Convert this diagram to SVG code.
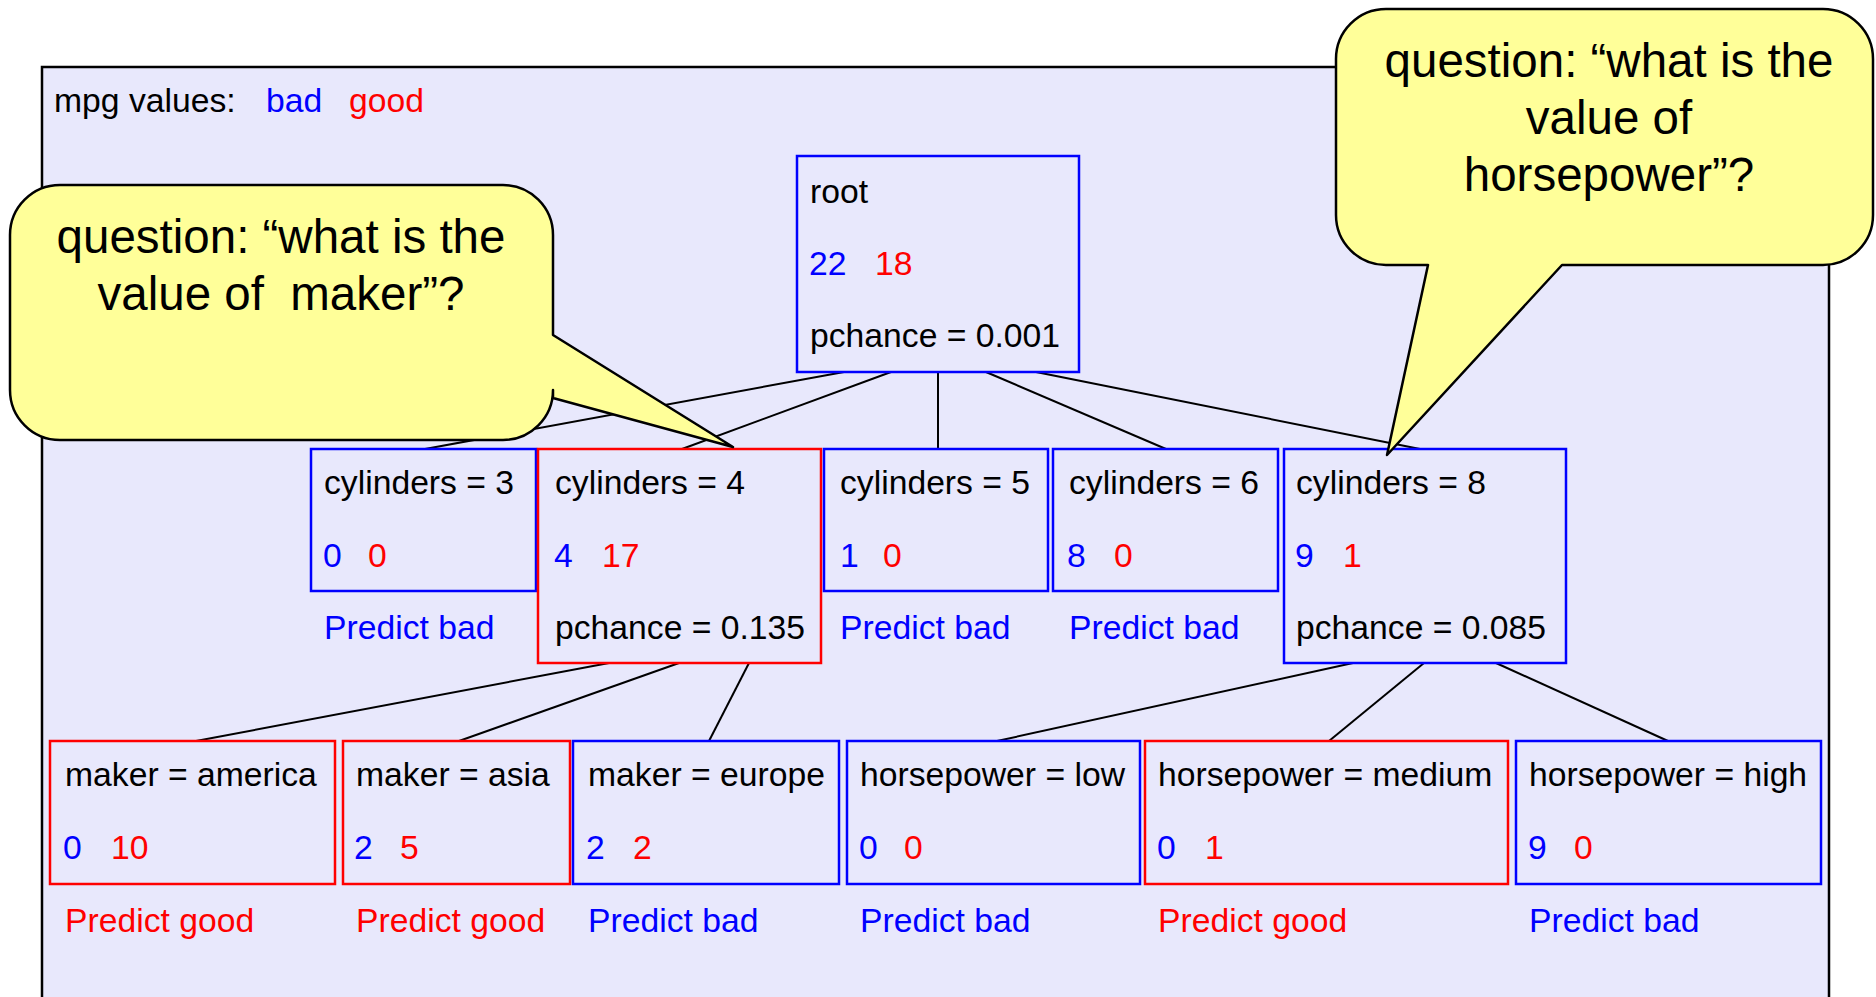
<svg xmlns="http://www.w3.org/2000/svg" width="1876" height="997" viewBox="0 0 1876 997">
<style>
.t{font-family:"Liberation Sans",Arial,sans-serif;font-size:33.7px;fill:#000}
.b{fill:#0000FF}
.r{fill:#FF0000}
.nb{fill:none;stroke:#0000FF;stroke-width:2.5}
.nr{fill:none;stroke:#FF0000;stroke-width:2.5}
.c{stroke:#000;stroke-width:2;fill:none}
.call{fill:#FFFF99;stroke:#000;stroke-width:2.5;stroke-linejoin:round}
.ct{font-family:"Liberation Sans",Arial,sans-serif;font-size:47.5px;fill:#000;text-anchor:middle}
</style>
<rect x="0" y="0" width="1876" height="997" fill="#FFFFFF"/>
<rect id="frame" x="42" y="67" width="1787" height="940" fill="#E8E8FC" stroke="#000" stroke-width="2.5"/>
<g id="legend">
<text class="t" x="54" y="112">mpg values:</text>
<text class="t b" x="266" y="112">bad</text>
<text class="t r" x="349" y="112">good</text>
</g>
<g id="connectors">
<line class="c" x1="844" y1="372" x2="425" y2="449"/>
<line class="c" x1="891" y1="372" x2="682" y2="449"/>
<line class="c" x1="938" y1="372" x2="938" y2="449"/>
<line class="c" x1="986" y1="372" x2="1166" y2="449"/>
<line class="c" x1="1036" y1="372" x2="1420" y2="449"/>
<line class="c" x1="609" y1="663" x2="196" y2="741"/>
<line class="c" x1="679" y1="663" x2="459" y2="741"/>
<line class="c" x1="749" y1="663" x2="709" y2="741"/>
<line class="c" x1="1353" y1="663" x2="997" y2="741"/>
<line class="c" x1="1424" y1="663" x2="1329" y2="741"/>
<line class="c" x1="1496" y1="663" x2="1668" y2="741"/>
</g>
<g id="root">
<rect class="nb" x="797" y="156" width="282" height="216"/>
<text class="t" x="810" y="203">root</text>
<text class="t" y="275"><tspan class="b" x="809">22</tspan><tspan class="r" x="875">18</tspan></text>
<text class="t" x="810" y="347">pchance = 0.001</text>
</g>
<g id="cyl3">
<rect class="nb" x="311" y="449" width="225" height="142"/>
<text class="t" x="324" y="494">cylinders = 3</text>
<text class="t" y="567"><tspan class="b" x="323">0</tspan><tspan class="r" x="368">0</tspan></text>
<text class="t b" x="324" y="639">Predict bad</text>
</g>
<g id="cyl4">
<rect class="nr" x="538" y="449" width="283" height="214"/>
<text class="t" x="555" y="494">cylinders = 4</text>
<text class="t" y="567"><tspan class="b" x="554">4</tspan><tspan class="r" x="602">17</tspan></text>
<text class="t" x="555" y="639">pchance = 0.135</text>
</g>
<g id="cyl5">
<rect class="nb" x="824" y="449" width="224" height="142"/>
<text class="t" x="840" y="494">cylinders = 5</text>
<text class="t" y="567"><tspan class="b" x="840">1</tspan><tspan class="r" x="883">0</tspan></text>
<text class="t b" x="840" y="639">Predict bad</text>
</g>
<g id="cyl6">
<rect class="nb" x="1053" y="449" width="225" height="142"/>
<text class="t" x="1069" y="494">cylinders = 6</text>
<text class="t" y="567"><tspan class="b" x="1067">8</tspan><tspan class="r" x="1114">0</tspan></text>
<text class="t b" x="1069" y="639">Predict bad</text>
</g>
<g id="cyl8">
<rect class="nb" x="1284" y="449" width="282" height="214"/>
<text class="t" x="1296" y="494">cylinders = 8</text>
<text class="t" y="567"><tspan class="b" x="1295">9</tspan><tspan class="r" x="1343">1</tspan></text>
<text class="t" x="1296" y="639">pchance = 0.085</text>
</g>
<g id="america">
<rect class="nr" x="50" y="741" width="285" height="143"/>
<text class="t" x="65" y="786">maker = america</text>
<text class="t" y="859"><tspan class="b" x="63">0</tspan><tspan class="r" x="111">10</tspan></text>
<text class="t r" x="65" y="932">Predict good</text>
</g>
<g id="asia">
<rect class="nr" x="343" y="741" width="227" height="143"/>
<text class="t" x="356" y="786">maker = asia</text>
<text class="t" y="859"><tspan class="b" x="354">2</tspan><tspan class="r" x="400">5</tspan></text>
<text class="t r" x="356" y="932">Predict good</text>
</g>
<g id="europe">
<rect class="nb" x="573" y="741" width="266" height="143"/>
<text class="t" x="588" y="786">maker = europe</text>
<text class="t" y="859"><tspan class="b" x="586">2</tspan><tspan class="r" x="633">2</tspan></text>
<text class="t b" x="588" y="932">Predict bad</text>
</g>
<g id="hplow">
<rect class="nb" x="847" y="741" width="293" height="143"/>
<text class="t" x="860" y="786">horsepower = low</text>
<text class="t" y="859"><tspan class="b" x="859">0</tspan><tspan class="r" x="904">0</tspan></text>
<text class="t b" x="860" y="932">Predict bad</text>
</g>
<g id="hpmedium">
<rect class="nr" x="1145" y="741" width="363" height="143"/>
<text class="t" x="1158" y="786">horsepower = medium</text>
<text class="t" y="859"><tspan class="b" x="1157">0</tspan><tspan class="r" x="1205">1</tspan></text>
<text class="t r" x="1158" y="932">Predict good</text>
</g>
<g id="hphigh">
<rect class="nb" x="1516" y="741" width="305" height="143"/>
<text class="t" x="1529" y="786">horsepower = high</text>
<text class="t" y="859"><tspan class="b" x="1528">9</tspan><tspan class="r" x="1574">0</tspan></text>
<text class="t b" x="1529" y="932">Predict bad</text>
</g>
<g id="callout-maker">
<path class="call" d="M60,185 H503 A50,50 0 0 1 553,235 V335 L733,447 L553,398 V390 A50,50 0 0 1 503,440 H60 A50,50 0 0 1 10,390 V235 A50,50 0 0 1 60,185 Z"/>
<text class="ct" x="281" y="253">question: “what is the</text>
<text class="ct" x="281" y="310">value of&#160; maker”?</text>
</g>
<g id="callout-horsepower">
<path class="call" d="M1386,9 H1823 A50,50 0 0 1 1873,59 V215 A50,50 0 0 1 1823,265 H1562 L1387,455 L1428,265 H1386 A50,50 0 0 1 1336,215 V59 A50,50 0 0 1 1386,9 Z"/>
<text class="ct" x="1609" y="77">question: “what is the</text>
<text class="ct" x="1609" y="134">value of</text>
<text class="ct" x="1609" y="191">horsepower”?</text>
</g>
</svg>
